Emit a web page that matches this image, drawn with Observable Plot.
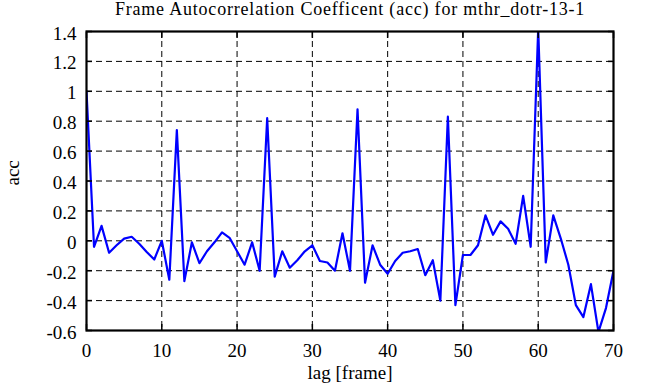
<!DOCTYPE html>
<html>
<head>
<meta charset="utf-8">
<script src="https://cdn.jsdelivr.net/npm/d3@7"></script>
<script src="https://cdn.jsdelivr.net/npm/@observablehq/plot@0.6"></script>
<style>
  html, body { margin: 0; padding: 0; background: #fff; }
  svg text { font-family: "Liberation Serif", serif; }
</style>
</head>
<body>
<div id="chart"></div>
<script>
const titleText = "Frame Autocorrelation Coefficent (acc) for mthr_dotr-13-1";
const xLabel = "lag [frame]";
const yLabel = "acc";

const lags = d3.range(0, 71);
const acc = [
  1.0, -0.04, 0.10, -0.08, -0.03, 0.015, 0.027, -0.02, -0.075, -0.125,
  0.0, -0.26, 0.74, -0.27, -0.01, -0.15, -0.07, -0.01, 0.056, 0.02,
  -0.07, -0.16, -0.01, -0.2, 0.82, -0.24, -0.07, -0.18, -0.13, -0.07,
  -0.03, -0.135, -0.145, -0.2, 0.05, -0.2, 0.88, -0.28, -0.03, -0.16,
  -0.22, -0.135, -0.08, -0.07, -0.055, -0.23, -0.13, -0.4, 0.83, -0.43,
  -0.095, -0.095, -0.03, 0.17, 0.04, 0.13, 0.08, -0.02, 0.30, -0.04,
  1.42, -0.145, 0.17, 0.015, -0.16, -0.43, -0.51, -0.29, -0.61, -0.45,
  -0.2
];
const xTicks = [0, 10, 20, 30, 40, 50, 60, 70];
const yTicks = [-0.6, -0.4, -0.2, 0, 0.2, 0.4, 0.6, 0.8, 1, 1.2, 1.4];

const data = lags.map((l, i) => ({lag: l, acc: acc[i]}));
const font = "Liberation Serif";
const fs = 19;
const blank = () => "";
const fmtY = d => String(+d.toFixed(1));

const chart = Plot.plot({
  width: 646,
  height: 387,
  marginLeft: 86,
  marginRight: 33,
  marginTop: 31,
  marginBottom: 57,
  style: {fontFamily: font, fontSize: fs + "px", background: "#fff", color: "#000"},
  x: {domain: [0, 70]},
  y: {domain: [-0.6, 1.4]},
  marks: [
    Plot.gridX(xTicks, {stroke: "#000", strokeOpacity: 1, strokeWidth: 1, strokeDasharray: "6,4"}),
    Plot.gridY(yTicks, {stroke: "#000", strokeOpacity: 1, strokeWidth: 1, strokeDasharray: "6,4"}),
    Plot.line(data, {x: "lag", y: "acc", stroke: "#0000ff", strokeWidth: 2.2, clip: true}),
    // inward ticks on all four sides
    Plot.axisX(xTicks, {anchor: "bottom", tickSize: 6, dy: -6, tickFormat: blank, label: null, strokeWidth: 1.5}),
    Plot.axisX(xTicks, {anchor: "top", tickSize: 6, dy: 6, tickFormat: blank, label: null, strokeWidth: 1.5}),
    Plot.axisY(yTicks, {anchor: "left", tickSize: 6, dx: 6, tickFormat: blank, label: null, strokeWidth: 1.5}),
    Plot.axisY(yTicks, {anchor: "right", tickSize: 6, dx: -6, tickFormat: blank, label: null, strokeWidth: 1.5}),
    // tick labels
    Plot.text(xTicks, {x: d => d, frameAnchor: "bottom", lineAnchor: "top", dy: 13, text: d => String(d), fontSize: fs, fontFamily: font, fill: "#000"}),
    Plot.text(yTicks, {y: d => d, frameAnchor: "left", textAnchor: "end", dx: -10, dy: 2, text: fmtY, fontSize: fs, fontFamily: font, fill: "#000"}),
    Plot.frame({stroke: "#000", strokeWidth: 2.2}),
    // titles
    Plot.text([titleText], {frameAnchor: "top", lineAnchor: "bottom", dy: -16.5, fontSize: 18, fontFamily: font, fill: "#000"}),
    Plot.text([xLabel], {frameAnchor: "bottom", lineAnchor: "bottom", dy: 48, fontSize: fs, fontFamily: font, fill: "#000"}),
    Plot.text([yLabel], {frameAnchor: "left", rotate: -90, dx: -74, dy: 4.5, fontSize: fs, fontFamily: font, fill: "#000"})
  ]
});
d3.select(chart).selectAll("text").filter(function () { return this.textContent === titleText; })
  .style("letter-spacing", "0.8px");
document.getElementById("chart").appendChild(chart);
</script>
</body>
</html>
